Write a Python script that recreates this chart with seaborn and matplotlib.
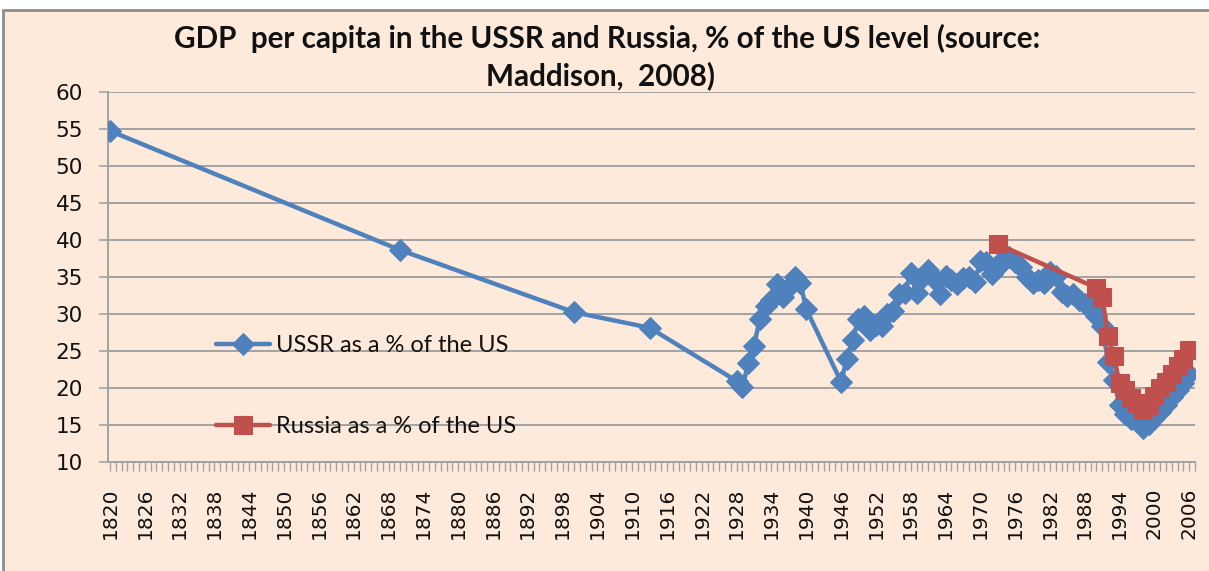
import numpy as np
import pandas as pd
import seaborn as sns
import matplotlib.pyplot as plt
from matplotlib.patches import Rectangle
from matplotlib.ticker import FixedLocator, MultipleLocator

# ---- data ----
ussr_years = [1820, 1870, 1900, 1913,
              1928, 1929, 1930, 1931, 1932, 1933, 1934, 1935, 1936, 1937, 1938, 1939, 1940,
              1946, 1947, 1948, 1949, 1950, 1951, 1952, 1953, 1954, 1955, 1956, 1957, 1958,
              1959, 1960, 1961, 1962, 1963, 1964, 1965, 1966, 1967, 1968, 1969, 1970, 1971,
              1972, 1973, 1974, 1975, 1976, 1977, 1978, 1979, 1980, 1981, 1982, 1983, 1984,
              1985, 1986, 1987, 1988, 1989, 1990, 1991, 1992, 1993, 1994, 1995, 1996, 1997,
              1998, 1999, 2000, 2001, 2002, 2003, 2004, 2005, 2006]
ussr_pct = [54.7, 38.6, 30.2, 28.1,
            20.9, 20.1, 23.3, 25.7, 29.3, 31.1, 31.9, 34.0, 32.2, 33.6, 35.0, 34.1, 30.6,
            20.8, 23.9, 26.5, 29.3, 29.7, 27.8, 28.5, 28.4, 30.0, 30.4, 32.7, 32.8, 35.5,
            32.8, 34.8, 35.9, 34.7, 32.6, 35.1, 34.5, 34.0, 34.8, 34.9, 34.3, 37.1, 37.0,
            35.4, 36.3, 37.5, 37.7, 37.0, 36.3, 35.0, 34.1, 34.6, 34.1, 35.7, 35.1, 32.9,
            32.4, 32.6, 31.9, 31.3, 30.8, 29.7, 28.4, 23.5, 21.0, 17.6, 16.5, 15.8, 15.6,
            14.6, 15.1, 15.9, 16.7, 17.6, 18.7, 19.7, 20.7, 21.8]

russia_years = [1973, 1990, 1991, 1992, 1993, 1994, 1995, 1996, 1997, 1998, 1999,
                2000, 2001, 2002, 2003, 2004, 2005, 2006]
russia_pct = [39.4, 33.5, 32.3, 27.0, 24.3, 20.6, 19.7, 18.6, 18.0, 17.0, 17.6,
              18.9, 19.9, 20.8, 21.9, 22.9, 23.9, 25.1]

ussr_label = "USSR as a % of the US"
russia_label = "Russia as a % of the US"
title_line1 = "GDP  per capita in the USSR and Russia, % of the US level (source:"
title_line2 = "Maddison,  2008)"
y_ticks = [10, 15, 20, 25, 30, 35, 40, 45, 50, 55, 60]
x_ticks = list(range(1820, 2007, 6))

# ---- styling ----
sns.set_style("white")
plt.rcParams['font.family'] = ['DejaVu Sans']

W, H = 1209, 571
PEACH = '#FDEADA'
GRID = '#A3A3A3'
BLUE = '#4F81BD'
RED = '#C0504D'

fig = plt.figure(figsize=(W / 100, H / 100), dpi=100)
fig.patch.set_facecolor('white')
fig.patches.append(Rectangle((3 / W, -0.05), 1.2, 1 - 10 / H + 0.05,
                             transform=fig.transFigure, facecolor=PEACH,
                             edgecolor='#8E8E8E', lw=2, zorder=-10))

left, right, top, bottom = 107.7, 1195, 91.7, 461.7
ax = fig.add_axes([left / W, 1 - bottom / H, (right - left) / W, (bottom - top) / H])
ax.set_facecolor('none')

df_u = pd.DataFrame({'year': ussr_years, 'pct': ussr_pct})
df_r = pd.DataFrame({'year': russia_years, 'pct': russia_pct})

sns.lineplot(data=df_u, x='year', y='pct', ax=ax, color=BLUE, lw=3.2,
             marker='D', markersize=11.5, markeredgecolor=BLUE, markerfacecolor=BLUE,
             label=ussr_label, zorder=3)
sns.lineplot(data=df_r, x='year', y='pct', ax=ax, color=RED, lw=3.2,
             marker='s', markersize=13, markeredgecolor=RED, markerfacecolor=RED,
             label=russia_label, zorder=4)

ax.set_xlim(1819.6, 2007.0)
ax.set_ylim(10, 60)
ax.set_xlabel('')
ax.set_ylabel('')

ax.yaxis.set_major_locator(FixedLocator(y_ticks))
ax.xaxis.set_major_locator(FixedLocator(x_ticks))
ax.xaxis.set_minor_locator(MultipleLocator(1))
ax.set_yticklabels([str(v) for v in y_ticks], fontsize=15.5, color='#111111')
ax.set_xticklabels([str(v) for v in x_ticks], fontsize=14.5, rotation=90, color='#111111')

ax.yaxis.grid(True, color=GRID, lw=1.4)
ax.xaxis.grid(False)
ax.set_axisbelow(True)
for s in ['top', 'right']:
    ax.spines[s].set_visible(False)
for s in ['left', 'bottom']:
    ax.spines[s].set_color(GRID)
    ax.spines[s].set_linewidth(1.4)

ax.tick_params(axis='y', which='major', direction='out', length=6.8, width=1.2,
               color=GRID, pad=11, left=True)
ax.tick_params(axis='x', which='both', direction='out', length=6.5, width=1.0,
               color=GRID, bottom=True)
ax.tick_params(axis='x', which='major', pad=12)

leg = ax.legend(loc='upper left', bbox_to_anchor=(216 / W, 1 - 335 / H),
                bbox_transform=fig.transFigure, frameon=False,
                prop={'family': 'Lato', 'size': 17}, handlelength=2.3,
                handletextpad=0.25, labelspacing=2.55, borderpad=0, borderaxespad=0)
for t in leg.get_texts():
    t.set_color('#111111')

fig.text(607 / W, 1 - 38 / H, title_line1, ha='center', va='center',
         fontsize=21.3, fontweight='bold', family='Lato', color='#111111')
fig.text(601 / W, 1 - 76 / H, title_line2, ha='center', va='center',
         fontsize=21.3, fontweight='bold', family='Lato', color='#111111')

fig.savefig('out.png', dpi=100, facecolor=fig.get_facecolor())
